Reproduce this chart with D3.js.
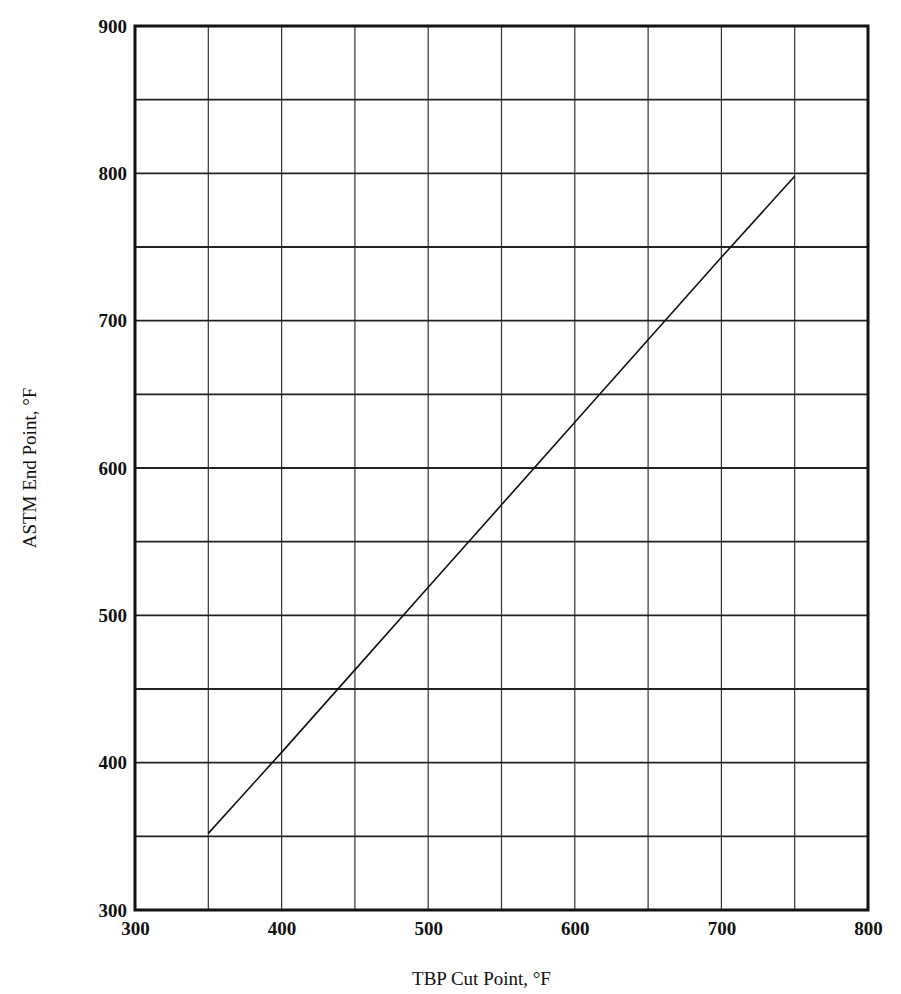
<!DOCTYPE html>
<html><head><meta charset="utf-8">
<script src="https://cdn.jsdelivr.net/npm/d3@7/dist/d3.min.js"></script>
<style>body{margin:0;background:#fff}text{font-family:"Liberation Serif","DejaVu Serif",serif;fill:#111}</style>
</head><body><svg id="c" width="901" height="994"></svg>
<script>
const tbp = [350,400,450,500,550,600,650,700,750];
const astm = [352,407,463,519,575,631,687,743,798];
const xTicks = [300,400,500,600,700,800];
const yTicks = [300,400,500,600,700,800,900];
const gridStep = 50;

const svg = d3.select("#c");
const L=135,R=868,T=26,B=910;
const x = d3.scaleLinear().domain([300,800]).range([L,R]);
const y = d3.scaleLinear().domain([300,900]).range([B,T]);
const g = svg.append("g");
const xs = d3.range(300,801,gridStep), ys = d3.range(300,901,gridStep);
g.selectAll(".vx").data(xs).join("line").attr("x1",d=>x(d)).attr("x2",d=>x(d)).attr("y1",T).attr("y2",B).attr("stroke","#333").attr("stroke-width",1.2);
g.selectAll(".hy").data(ys).join("line").attr("y1",d=>y(d)).attr("y2",d=>y(d)).attr("x1",L).attr("x2",R).attr("stroke","#222").attr("stroke-width",1.8);
g.append("rect").attr("x",L).attr("y",T).attr("width",R-L).attr("height",B-T).attr("fill","none").attr("stroke","#111").attr("stroke-width",3);
svg.append("g").attr("transform",`translate(0,${B})`).call(d3.axisBottom(x).tickValues(xTicks).tickSize(0).tickPadding(12))
 .call(a=>a.select(".domain").remove()).attr("font-size",null).attr("font-family",null).selectAll("text").style("font-size","19px").style("font-weight","bold");
svg.append("g").attr("transform",`translate(${L},0)`).call(d3.axisLeft(y).tickValues(yTicks).tickSize(0).tickPadding(8))
 .call(a=>a.select(".domain").remove()).attr("font-size",null).attr("font-family",null).selectAll("text").style("font-size","19px").style("font-weight","bold");
svg.append("path").datum(tbp.map((d,i)=>[d,astm[i]])).attr("d",d3.line().x(d=>x(d[0])).y(d=>y(d[1])))
 .attr("fill","none").attr("stroke","#111").attr("stroke-width",1.6);
svg.append("text").attr("x",(L+R)/2-20).attr("y",985).attr("text-anchor","middle").style("font-size","19px").text("TBP Cut Point, °F");
svg.append("text").attr("transform",`translate(36,${(T+B)/2}) rotate(-90)`).attr("text-anchor","middle").style("font-size","19px").text("ASTM End Point, °F");
</script></body></html>
